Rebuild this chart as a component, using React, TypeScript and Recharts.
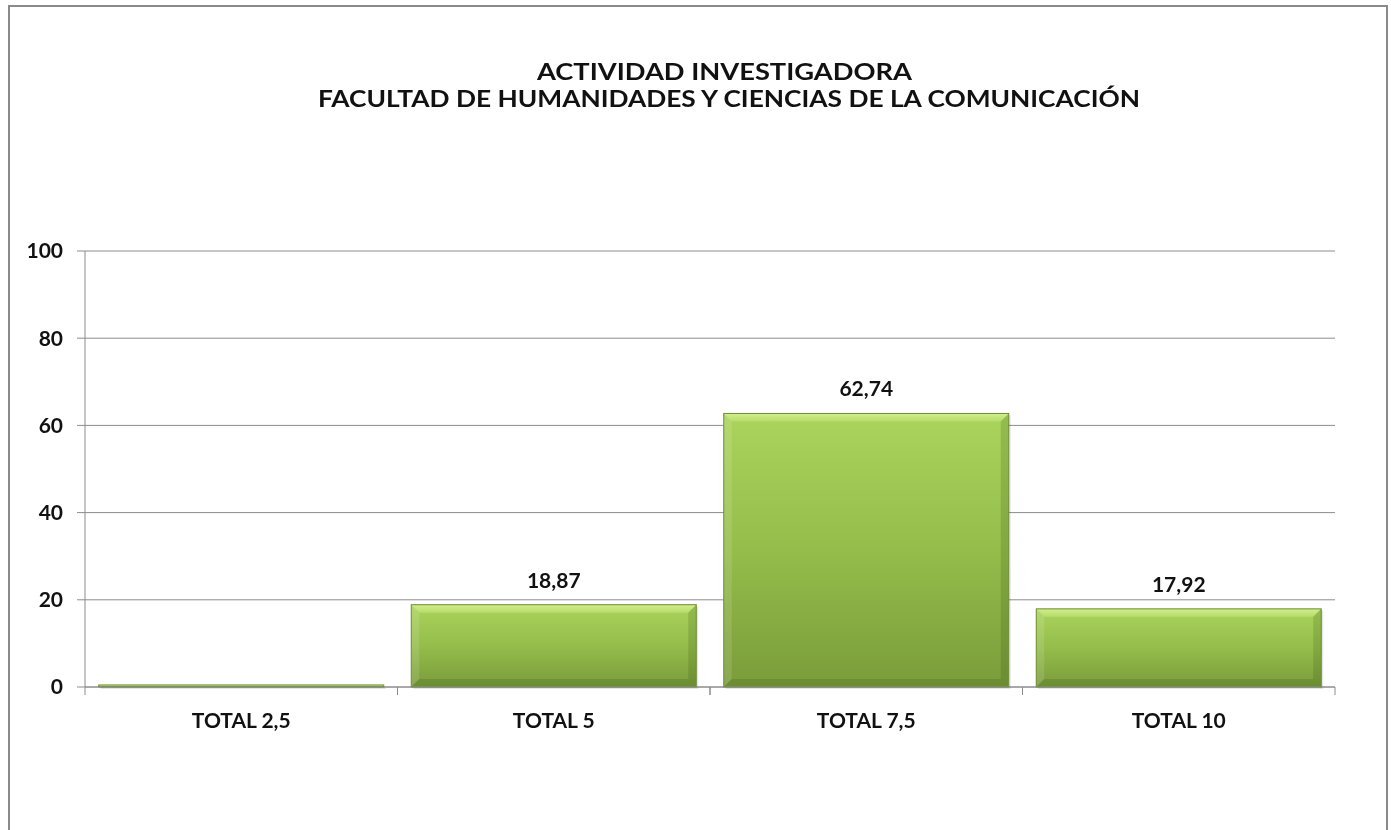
import React from 'react';
import { BarChart, Bar, XAxis, YAxis, CartesianGrid, LabelList } from 'recharts';

const TITLE_LINE_1 = 'ACTIVIDAD INVESTIGADORA';
const TITLE_LINE_2 = 'FACULTAD DE HUMANIDADES Y CIENCIAS DE LA COMUNICACIÓN';

const categories = ['TOTAL 2,5', 'TOTAL 5', 'TOTAL 7,5', 'TOTAL 10'];
const values = [0.47, 18.87, 62.74, 17.92];
const yTicks = [0, 20, 40, 60, 80, 100];

const data = categories.map((c, i) => ({ name: c, value: values[i] }));

const FONT = 'Lato, "Open Sans", sans-serif';
const AXIS_COLOR = '#8c8c8c';
const TEXT_COLOR = '#111111';
const FRAME_COLOR = '#8a8a8a';

const BevelBar = (props: any) => {
  const { x, y, width, height } = props;
  if (!height || height <= 0 || !width) return null;
  const w = width;
  const h = height;
  const b = Math.min(8, h / 2, w / 2);
  return (
    <g>
      <rect x={x + 2} y={y + 2} width={w} height={h} fill="rgba(0,0,0,0.10)" />
      <rect x={x} y={y} width={w} height={h} fill="url(#barGrad)" />
      <polygon
        points={`${x},${y} ${x + w},${y} ${x + w - b},${y + b} ${x + b},${y + b}`}
        fill="url(#topBevel)"
      />
      <polygon
        points={`${x},${y} ${x + b},${y + b} ${x + b},${y + h - b} ${x},${y + h}`}
        fill="rgba(255,255,255,0.12)"
      />
      <polygon
        points={`${x + w},${y} ${x + w},${y + h} ${x + w - b},${y + h - b} ${x + w - b},${y + b}`}
        fill="rgba(40,60,10,0.16)"
      />
      <polygon
        points={`${x},${y + h} ${x + w},${y + h} ${x + w - b},${y + h - b} ${x + b},${y + h - b}`}
        fill="rgba(40,60,10,0.16)"
      />
      <rect x={x} y={y} width={w} height={h} fill="none" stroke="#6f8c33" strokeWidth={1} />
    </g>
  );
};

const renderValueLabel = (p: any) => {
  const { x, y, width, value } = p;
  if (value == null || value < 1) return null;
  return (
    <text
      x={x + width / 2}
      y={y - 17}
      textAnchor="middle"
      fill={TEXT_COLOR}
      fontFamily={FONT}
      fontWeight={700}
      fontSize={21}
    >
      {Number(value).toFixed(2).replace('.', ',')}
    </text>
  );
};

const XTick = (p: any) => {
  const { x, y, payload, width, visibleTicksCount } = p;
  const n = visibleTicksCount || categories.length;
  const band = (width || 1250) / n;
  const axisY = y - 8;
  return (
    <g>
      <line x1={x - band / 2} y1={axisY} x2={x - band / 2} y2={axisY + 8} stroke={AXIS_COLOR} strokeWidth={1} />
      <line x1={x + band / 2} y1={axisY} x2={x + band / 2} y2={axisY + 8} stroke={AXIS_COLOR} strokeWidth={1} />
      <text
        x={x}
        y={y}
        dy={33}
        textAnchor="middle"
        fill={TEXT_COLOR}
        fontFamily={FONT}
        fontWeight={700}
        fontSize={21}
      >
        {payload.value}
      </text>
    </g>
  );
};

export default function App() {
  return (
    <div
      style={{
        position: 'relative',
        marginTop: -3,
        paddingTop: 2,
        paddingLeft: 2,
        width: 1376,
        height: 821,
        background: '#ffffff',
        overflow: 'hidden',
      }}
    >
      <svg
        width={1391}
        height={830}
        style={{ position: 'fixed', left: 0, top: 0, pointerEvents: 'none' }}
      >
        <line x1={9} y1={6} x2={1387} y2={6} stroke={FRAME_COLOR} strokeWidth={2} />
        <line x1={9} y1={5} x2={9} y2={830} stroke={FRAME_COLOR} strokeWidth={2} />
        <line x1={1387} y1={5} x2={1387} y2={830} stroke={FRAME_COLOR} strokeWidth={2} />
      </svg>
      <svg
        width={1376}
        height={140}
        style={{ position: 'absolute', left: 2, top: 2 }}
      >
        <text
          x={714.5}
          y={73}
          textAnchor="middle"
          fill={TEXT_COLOR}
          fontFamily={FONT}
          fontWeight={700}
          fontSize={22}
          textLength={375}
          lengthAdjust="spacingAndGlyphs"
        >
          {TITLE_LINE_1}
        </text>
        <text
          x={719}
          y={100}
          textAnchor="middle"
          fill={TEXT_COLOR}
          fontFamily={FONT}
          fontWeight={700}
          fontSize={22}
          textLength={822}
          lengthAdjust="spacingAndGlyphs"
        >
          {TITLE_LINE_2}
        </text>
      </svg>
      <BarChart
        width={1376}
        height={821}
        data={data}
        margin={{ top: 244, right: 51, left: 0, bottom: 91 }}
        barCategoryGap="4.4%"
      >
        <defs>
          <linearGradient id="barGrad" x1="0" y1="0" x2="0" y2="1">
            <stop offset="0%" stopColor="#aad45c" />
            <stop offset="50%" stopColor="#94bd4b" />
            <stop offset="100%" stopColor="#7a9c3a" />
          </linearGradient>
          <linearGradient id="topBevel" x1="0" y1="0" x2="0" y2="1">
            <stop offset="0%" stopColor="#d2ee8e" />
            <stop offset="100%" stopColor="#b6dc6a" />
          </linearGradient>
        </defs>
        <CartesianGrid vertical={false} stroke={AXIS_COLOR} strokeWidth={1} />
        <XAxis
          dataKey="name"
          axisLine={{ stroke: AXIS_COLOR, strokeWidth: 1 }}
          tickLine={false}
          tickSize={8}
          tickMargin={0}
          height={50}
          interval={0}
          tick={<XTick />}
        />
        <YAxis
          width={75}
          domain={[0, 100]}
          ticks={yTicks}
          interval={0}
          axisLine={{ stroke: AXIS_COLOR, strokeWidth: 1 }}
          tickLine={{ stroke: AXIS_COLOR, strokeWidth: 1 }}
          tickSize={8}
          tickMargin={14}
          tick={{ fill: TEXT_COLOR, fontSize: 21, fontWeight: 700, fontFamily: FONT }}
        />
        <Bar dataKey="value" shape={<BevelBar />} isAnimationActive={false}>
          <LabelList dataKey="value" content={renderValueLabel} />
        </Bar>
      </BarChart>
    </div>
  );
}
